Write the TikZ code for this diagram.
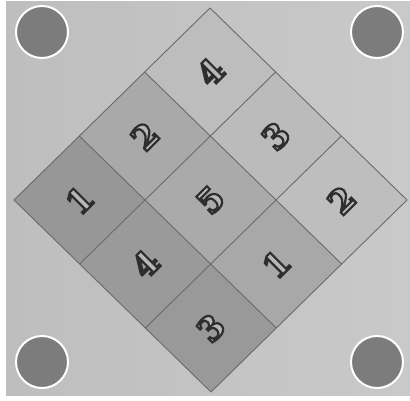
\documentclass[tikz,border=0pt]{standalone}
\usepackage{fontspec}
\newfontfamily\digitfont{DejaVu Serif}
\usetikzlibrary{calc}
\definecolor{bgl}{HTML}{C9C9C9}
\definecolor{bgd}{HTML}{BEBEBE}
\definecolor{gridc}{HTML}{6A6A6A}
\definecolor{dotc}{HTML}{7C7C7C}
\definecolor{digfill}{HTML}{B8B8B8}
\definecolor{cA}{HTML}{BDBDBD}
\definecolor{cB}{HTML}{BBBBBB}
\definecolor{cC}{HTML}{BEBEBE}
\definecolor{cD}{HTML}{A9A9A9}
\definecolor{cE}{HTML}{AAAAAA}
\definecolor{cF}{HTML}{A8A8A8}
\definecolor{cG}{HTML}{979797}
\definecolor{cH}{HTML}{9A9A9A}
\definecolor{cI}{HTML}{999999}
\newcommand\outlinedigit[1]{\textcolor{digfill}{\special{pdf:literal 2 Tr 2.2 w 0.18 0.18 0.18 RG}#1\special{pdf:literal 0 Tr}}}
\begin{document}
\begin{tikzpicture}[x=1pt,y=-1pt,
  gridline/.style={draw=gridc, line width=0.9pt, line join=miter},
  dot/.style={circle, fill=dotc, draw=white, line width=2pt, minimum size=52pt, inner sep=0pt},
  digitstyle/.style={font=\digitfont\bfseries\fontsize{33}{33}\selectfont, rotate=45, inner sep=0pt}]
\useasboundingbox (0,0) rectangle (410,400);
\fill[white] (0,0) rectangle (410,400);
\shade[left color=bgd, right color=bgl] (6,1) rectangle (410,395);
% grid points
\foreach \i in {0,...,3} {\foreach \j in {0,...,3} {
  \coordinate (p-\i-\j) at ({210 - \i*196/3 + \j*197/3}, {8 + \i*64 + \j*64});
}}
% cells
\foreach \i/\j/\c in {0/0/cA,0/1/cB,0/2/cC,1/0/cD,1/1/cE,1/2/cF,2/0/cG,2/1/cH,2/2/cI} {
  \pgfmathtruncatemacro\ii{\i+1}\pgfmathtruncatemacro\jj{\j+1}
  \fill[\c] (p-\i-\j) -- (p-\ii-\j) -- (p-\ii-\jj) -- (p-\i-\jj) -- cycle;
  \coordinate (c-\i-\j) at ($(p-\i-\j)!0.5!(p-\ii-\jj)$);
}
% grid lines
\foreach \k in {0,...,3} {
  \draw[gridline] (p-\k-0) -- (p-\k-3);
  \draw[gridline] (p-0-\k) -- (p-3-\k);
}
% corner dots
\node[dot] (tl) at (42,32) {};
\node[dot] (tr) at (377,32) {};
\node[dot] (bl) at (42,362) {};
\node[dot] (br) at (377,362) {};
% digits
\node[digitstyle] (n00) at (c-0-0) {\outlinedigit{4}};
\node[digitstyle] (n01) at (c-0-1) {\outlinedigit{3}};
\node[digitstyle] (n02) at (c-0-2) {\outlinedigit{2}};
\node[digitstyle] (n10) at (c-1-0) {\outlinedigit{2}};
\node[digitstyle] (n11) at (c-1-1) {\outlinedigit{5}};
\node[digitstyle] (n12) at (c-1-2) {\outlinedigit{1}};
\node[digitstyle] (n20) at (c-2-0) {\outlinedigit{1}};
\node[digitstyle] (n21) at (c-2-1) {\outlinedigit{4}};
\node[digitstyle] (n22) at (c-2-2) {\outlinedigit{3}};
\end{tikzpicture}
\end{document}
